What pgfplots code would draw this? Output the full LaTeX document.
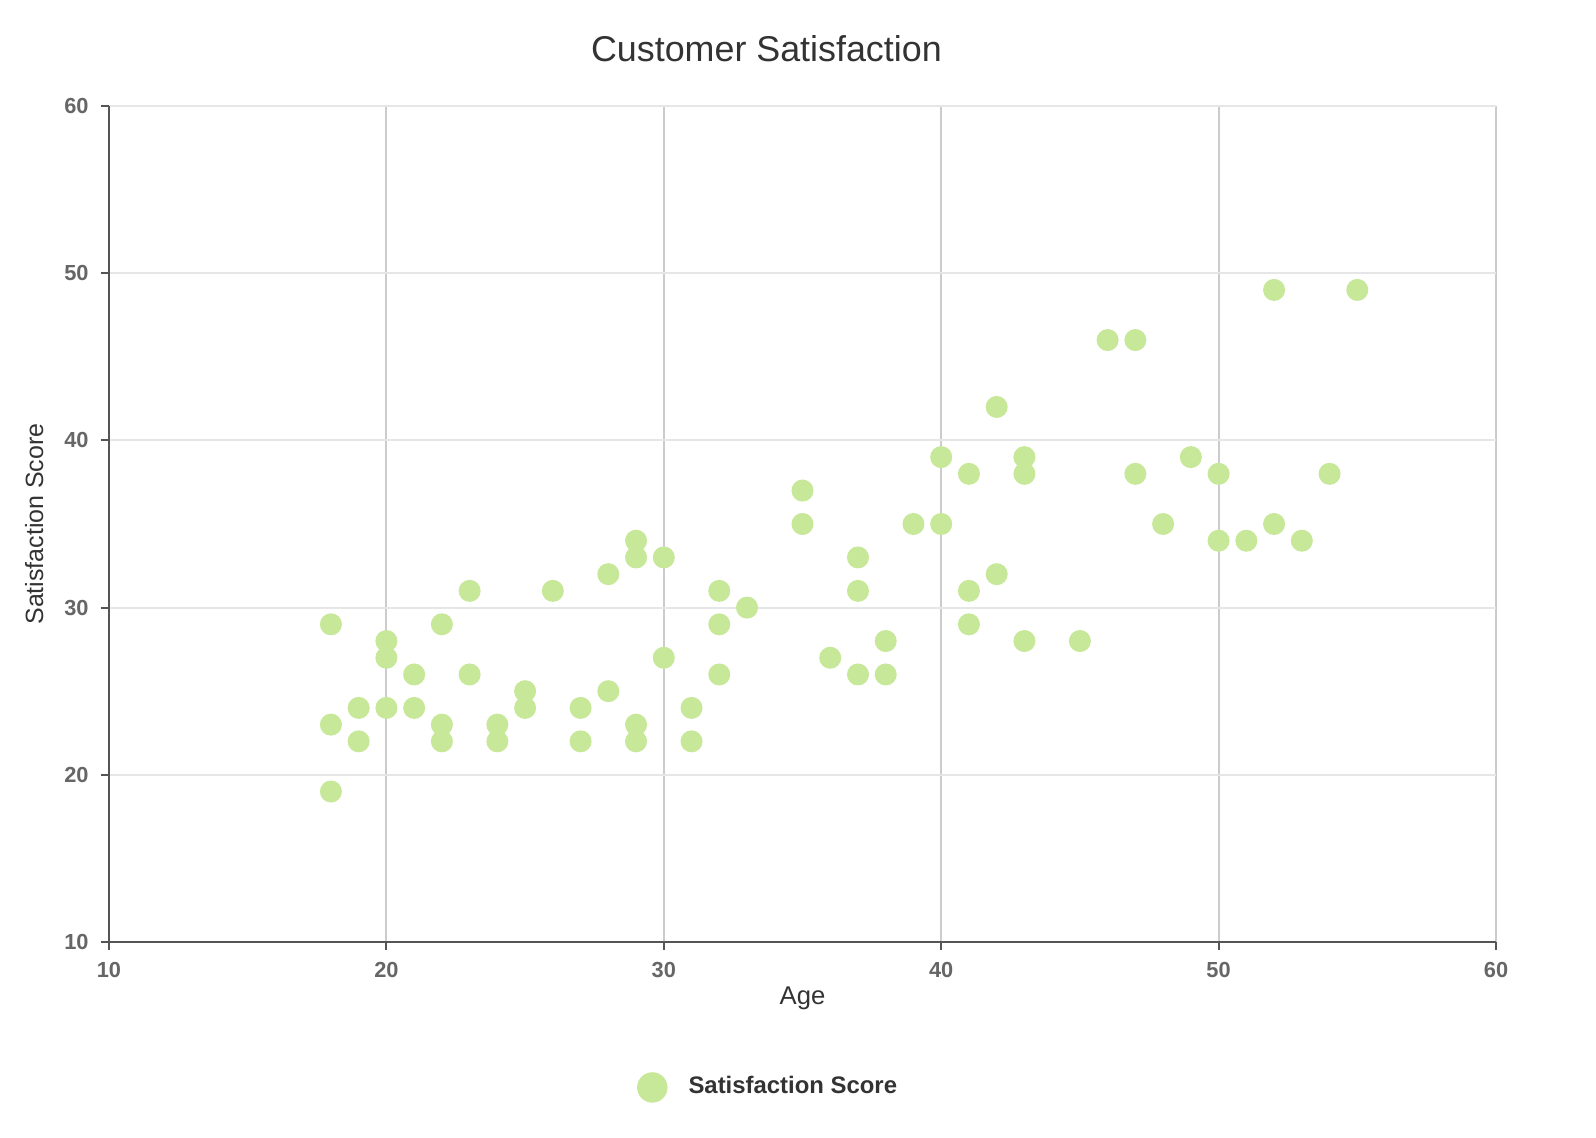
\documentclass[border=0pt]{standalone}
\usepackage{pgfplots}
\pgfplotsset{compat=1.18}
\usepackage{fontspec}
\setmainfont{Liberation Sans}
\definecolor{scat}{HTML}{C6E898}
\definecolor{txtdark}{HTML}{333333}
\definecolor{txtgray}{HTML}{666666}
\definecolor{axisgray}{HTML}{555555}
\definecolor{vgrid}{HTML}{CCCCCC}
\definecolor{hgrid}{HTML}{E6E6E6}

\begin{document}
\begin{tikzpicture}
\begin{axis}[
  scale only axis, width=138.7mm, height=83.6mm,
  xmin=10, xmax=60, ymin=10, ymax=60,
  xtick={10,20,...,60}, ytick={10,20,...,60},
  axis lines*=left, axis line style={axisgray,line width=0.55pt},
  tick align=outside, major tick length=0.8mm, tick style={axisgray,line width=0.55pt},
  grid=major, x grid style={vgrid,line width=0.55pt}, y grid style={hgrid,line width=0.55pt},
  /pgf/number format/assume math mode=true,
  ticklabel style={font=\bfseries\fontsize{6.2}{7}\selectfont, color=txtgray},
  title={Customer Satisfaction},
  every axis title shift=0pt,
  title style={at={(rel axis cs:0.474,1.068)}, anchor=center, font=\fontsize{10.2}{12}\selectfont, color=txtdark},
  xlabel={Age},
  xlabel style={at={(rel axis cs:0.5,-0.067)}, anchor=center, font=\fontsize{7.3}{9}\selectfont, color=txtdark},
  ylabel={Satisfaction Score},
  ylabel style={at={(rel axis cs:-0.054,0.5)}, anchor=center, font=\fontsize{7.1}{9}\selectfont, color=txtdark},
  legend style={at={(0.477,-0.174)}, anchor=center, draw=none, fill=none,
    font=\bfseries\fontsize{6.8}{8}\selectfont, text=txtdark,
    /tikz/every odd column/.append style={column sep=1.4mm}},
  legend image code/.code={\fill[scat] (0mm,0mm) circle (1.45mm);},
  clip=false,
]
\addplot[scat, only marks, mark=*, mark size=2.93pt, mark options={draw=none, fill=scat}] coordinates {
  (18,29) (18,23) (18,19)
  (19,24) (19,22)
  (20,28) (20,27) (20,24)
  (21,26) (21,24)
  (22,29) (22,23) (22,22)
  (23,31) (23,26)
  (24,23) (24,22)
  (25,25) (25,24)
  (26,31)
  (27,24) (27,22)
  (28,32) (28,25)
  (29,34) (29,33) (29,23) (29,22)
  (30,33) (30,27)
  (31,24) (31,22)
  (32,31) (32,29) (32,26)
  (33,30)
  (35,37) (35,35)
  (36,27)
  (37,33) (37,31) (37,26)
  (38,28) (38,26)
  (39,35)
  (40,39) (40,35)
  (41,38) (41,31) (41,29)
  (42,42) (42,32)
  (43,39) (43,38) (43,28)
  (45,28)
  (46,46)
  (47,46) (47,38)
  (48,35)
  (49,39)
  (50,38) (50,34)
  (51,34)
  (52,49) (52,35)
  (53,34)
  (54,38)
  (55,49)
};
\addlegendentry{Satisfaction Score}
\path (rel axis cs:0,0) ++(-10.9mm,-19.6mm) (rel axis cs:1,1) ++(10.0mm,10.6mm);
\end{axis}
\end{tikzpicture}
\end{document}
